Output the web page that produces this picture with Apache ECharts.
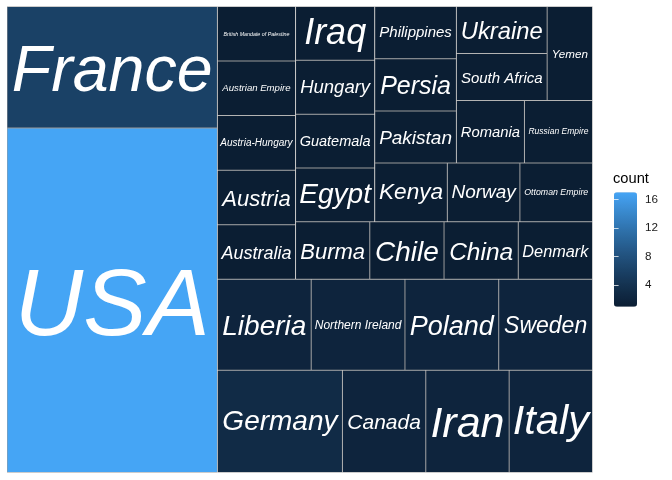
<!DOCTYPE html>
<html>
<head>
<meta charset="utf-8">
<script src="https://cdn.jsdelivr.net/npm/echarts@6/dist/echarts.min.js"></script>
<style>html,body{margin:0;padding:0;background:#fff}#c{width:672px;height:480px}</style>
</head>
<body>
<div id="c"></div>
<script>
// ---- data ----
const countries = ['USA','France','Germany','Canada','Iran','Italy','Liberia','Northern Ireland','Poland','Sweden',
  'Australia','Austria','Austria-Hungary','Austrian Empire','British Mandate of Palestine','Burma','Chile','China',
  'Denmark','Egypt','Guatemala','Hungary','Iraq','Kenya','Norway','Ottoman Empire','Pakistan','Persia','Philippines',
  'Romania','Russian Empire','South Africa','Ukraine','Yemen'];
const counts = [17,6,3,2,2,2,2,2,2,2,
  1,1,1,1,1,1,1,1,
  1,1,1,1,1,1,1,1,1,1,1,
  1,1,1,1,1];
const legendTicks = [4,8,12,16];

// ---- tiling order handed to the library's squarify ('/' starts a new strip) ----
const tiling = ['France','USA','/',
  [
    ['British Mandate of Palestine','Austrian Empire','Austria-Hungary','Austria','Australia','/',
      [
        ['Iraq','Hungary','Guatemala','Egypt','/',
          [
            ['Philippines','Persia','Pakistan','/',
              [
                ['Ukraine','South Africa','/','Yemen'],
                '/',
                ['Romania','/','Russian Empire']
              ]
            ],
            ['Kenya','/','Norway','/','Ottoman Empire']
          ]
        ],
        ['Burma','/','Chile','/','China','/','Denmark']
      ]
    ],
    '/',
    [
      ['Liberia','/','Northern Ireland','/','Poland','/','Sweden'],
      ['Germany','/','Canada','/','Iran','/','Italy']
    ]
  ]
];

// ---- styles ----
const labelSize = {
  'USA':95,'France':64.5,'Germany':28,'Canada':21,'Iran':43,'Italy':41.5,'Liberia':28,'Northern Ireland':12,
  'Poland':27,'Sweden':23,'Australia':18,'Austria':22,'Austria-Hungary':10,'Austrian Empire':9.6,
  'British Mandate of Palestine':5.3,'Burma':22,'Chile':28,'China':24.5,'Denmark':16.3,'Egypt':28,
  'Guatemala':14.5,'Hungary':18.5,'Iraq':36,'Kenya':22.6,'Norway':19,'Ottoman Empire':8.8,'Pakistan':19,
  'Persia':25,'Philippines':15,'Romania':14.8,'Russian Empire':8.5,'South Africa':15,'Ukraine':23.8,'Yemen':11.6
};
const LOW = '#132B43', HIGH = '#56B1F7', GAMMA = 1.2;
const vmin = Math.min(...counts), vmax = Math.max(...counts);

function hex2rgb(h){return [1,3,5].map(i=>parseInt(h.slice(i,i+2),16)/255);}
function toLin(c){return c<=0.04045?c/12.92:Math.pow((c+0.055)/1.055,2.4);}
function toSrgb(c){c=Math.max(0,Math.min(1,c));return c<=0.0031308?12.92*c:1.055*Math.pow(c,1/2.4)-0.055;}
const Xn=0.95047,Yn=1,Zn=1.08883,d=6/29;
function f(t){return t>d*d*d?Math.cbrt(t):t/(3*d*d)+4/29;}
function fi(t){return t>d?t*t*t:3*d*d*(t-4/29);}
function hex2lab(h){
  const [r,g,b]=hex2rgb(h).map(toLin);
  const X=0.4124*r+0.3576*g+0.1805*b, Y=0.2126*r+0.7152*g+0.0722*b, Z=0.0193*r+0.1192*g+0.9505*b;
  const fx=f(X/Xn),fy=f(Y/Yn),fz=f(Z/Zn);
  return [116*fy-16,500*(fx-fy),200*(fy-fz)];
}
function lab2hex([L,a,bb]){
  const fy=(L+16)/116,fx=fy+a/500,fz=fy-bb/200;
  const X=Xn*fi(fx),Y=Yn*fi(fy),Z=Zn*fi(fz);
  const r=3.2406*X-1.5372*Y-0.4986*Z, g=-0.9689*X+1.8758*Y+0.0415*Z, b=0.0557*X-0.2040*Y+1.0570*Z;
  return '#'+[r,g,b].map(c=>Math.round(Math.pow(toSrgb(c),GAMMA)*255).toString(16).padStart(2,'0')).join('');
}
const labLo=hex2lab(LOW), labHi=hex2lab(HIGH);
function fillFor(v){const t=(v-vmin)/(vmax-vmin);return lab2hex(labLo.map((x,i)=>x+(labHi[i]-x)*t));}

let gid=0;
function build(node){
  if(node==='/'){gid++;return {name:'_b'+gid,value:1e-6,label:{show:false},itemStyle:{borderWidth:0,color:'rgba(0,0,0,0)'}};}
  if(Array.isArray(node)){gid++;return {name:'_g'+gid,children:node.map(build),itemStyle:{borderWidth:0,gapWidth:0}};}
  const v=counts[countries.indexOf(node)];
  const fs=labelSize[node];
  const desc=/[gjpqy]/.test(node);
  return {name:node,value:v,itemStyle:{color:fillFor(v),borderWidth:0.5,borderColor:'#9a9a9a'},
    label:{fontSize:fs,offset:[0,(desc?0.02:0.09)*fs]}};
}
const treeData = tiling.map(build);

const legendStops=[];
for(let i=0;i<=16;i++){legendStops.push(fillFor(vmin+(vmax-vmin)*i/16));}

const chart = echarts.init(document.getElementById('c'),null,{renderer:'canvas'});
chart.setOption({
  animation:false,
  backgroundColor:'#fff',
  title:{text:'count',left:613,top:171,padding:0,
    textStyle:{fontSize:14.7,fontWeight:'normal',color:'#000',fontFamily:'Liberation Sans'}},
  grid:{left:614,top:192.3,width:23,height:114.4,containLabel:false},
  xAxis:{type:'value',show:false,min:0,max:1},
  yAxis:[
    {type:'value',min:vmin,max:vmax,position:'right',z:10,
      axisLine:{show:false},splitLine:{show:false},
      axisTick:{show:true,inside:true,length:4.6,lineStyle:{color:'rgba(255,255,255,0.75)',width:1},customValues:legendTicks},
      axisLabel:{show:true,customValues:legendTicks,margin:8,color:'#1a1a1a',fontSize:11.7,fontFamily:'Liberation Sans'}},
    {type:'value',min:vmin,max:vmax,position:'left',z:10,
      axisLine:{show:false},splitLine:{show:false},
      axisTick:{show:true,inside:true,length:4.6,lineStyle:{color:'rgba(255,255,255,0.75)',width:1},customValues:legendTicks},
      axisLabel:{show:false}}
  ],
  visualMap:{type:'continuous',min:vmin,max:vmax,seriesIndex:1,calculable:false,orient:'vertical',
    left:614,top:192.3,itemWidth:23,itemHeight:114.4,padding:0,text:null,
    inRange:{color:legendStops}},
  series:[
    {type:'treemap',left:7,top:6.5,width:585.5,height:466,
      sort:false,squareRatio:10,roam:false,nodeClick:false,
      breadcrumb:{show:false},
      label:{show:true,position:'inside',color:'#fff',fontStyle:'italic',fontFamily:'Liberation Sans',
        padding:0,overflow:'none'},
      upperLabel:{show:false},
      itemStyle:{borderWidth:0,gapWidth:0},
      emphasis:{disabled:true},
      data:treeData},
    {type:'scatter',xAxisIndex:0,yAxisIndex:0,data:[],silent:true}
  ]
});
</script>
</body>
</html>
